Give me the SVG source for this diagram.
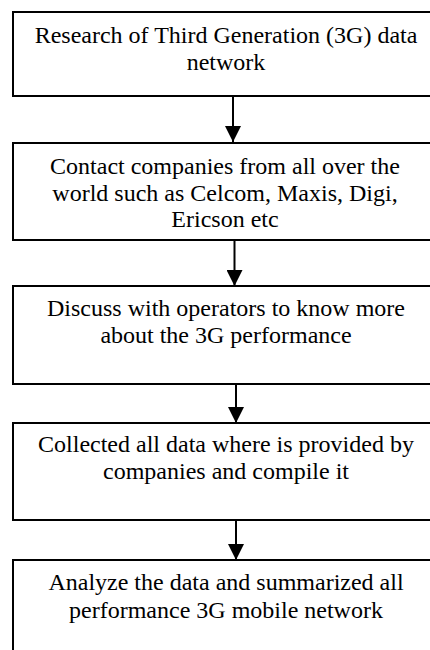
<svg xmlns="http://www.w3.org/2000/svg" width="430" height="650" viewBox="0 0 430 650">
<style>
.box{fill:#fff;stroke:#000;stroke-width:2}
.t{font-family:'Liberation Serif','Times New Roman','DejaVu Serif',serif;font-size:24px;fill:#000;text-anchor:middle}
.c{stroke:#000;stroke-width:2;fill:none}
</style>
<defs>
<marker id="ah" markerUnits="userSpaceOnUse" markerWidth="16" markerHeight="16" refX="16" refY="8" orient="auto">
<path d="M0,0 L16,8 L0,16 Z" fill="#000"/>
</marker>
</defs>
<rect width="430" height="650" fill="#fff"/>
<g id="connectors">
<line class="c" x1="233" y1="96" x2="233" y2="142" marker-end="url(#ah)"/>
<line class="c" x1="234.5" y1="240" x2="234.5" y2="286" marker-end="url(#ah)"/>
<line class="c" x1="236" y1="384" x2="236" y2="423" marker-end="url(#ah)"/>
<line class="c" x1="236" y1="520" x2="236" y2="560" marker-end="url(#ah)"/>
</g>
<g id="n1">
<rect class="box" x="13" y="12" width="430" height="84"/>
<text class="t" x="226" y="43" font-family="Liberation Serif, serif">Research of Third Generation (3G) data</text>
<text class="t" x="226" y="70" font-family="Liberation Serif, serif">network</text>
</g>
<g id="n2">
<rect class="box" x="13" y="143" width="430" height="97"/>
<text class="t" x="225" y="174">Contact companies from all over the</text>
<text class="t" x="225" y="201">world such as Celcom, Maxis, Digi,</text>
<text class="t" x="225" y="227">Ericson etc</text>
</g>
<g id="n3">
<rect class="box" x="13" y="286" width="430" height="98"/>
<text class="t" x="226" y="316">Discuss with operators to know more</text>
<text class="t" x="226" y="343">about the 3G performance</text>
</g>
<g id="n4">
<rect class="box" x="13" y="423" width="430" height="97"/>
<text class="t" x="226" y="452">Collected all data where is provided by</text>
<text class="t" x="226" y="479">companies and compile it</text>
</g>
<g id="n5">
<rect class="box" x="13" y="560" width="430" height="110"/>
<text class="t" x="226" y="590">Analyze the data and summarized all</text>
<text class="t" x="226" y="618">performance 3G mobile network</text>
</g>
</svg>
